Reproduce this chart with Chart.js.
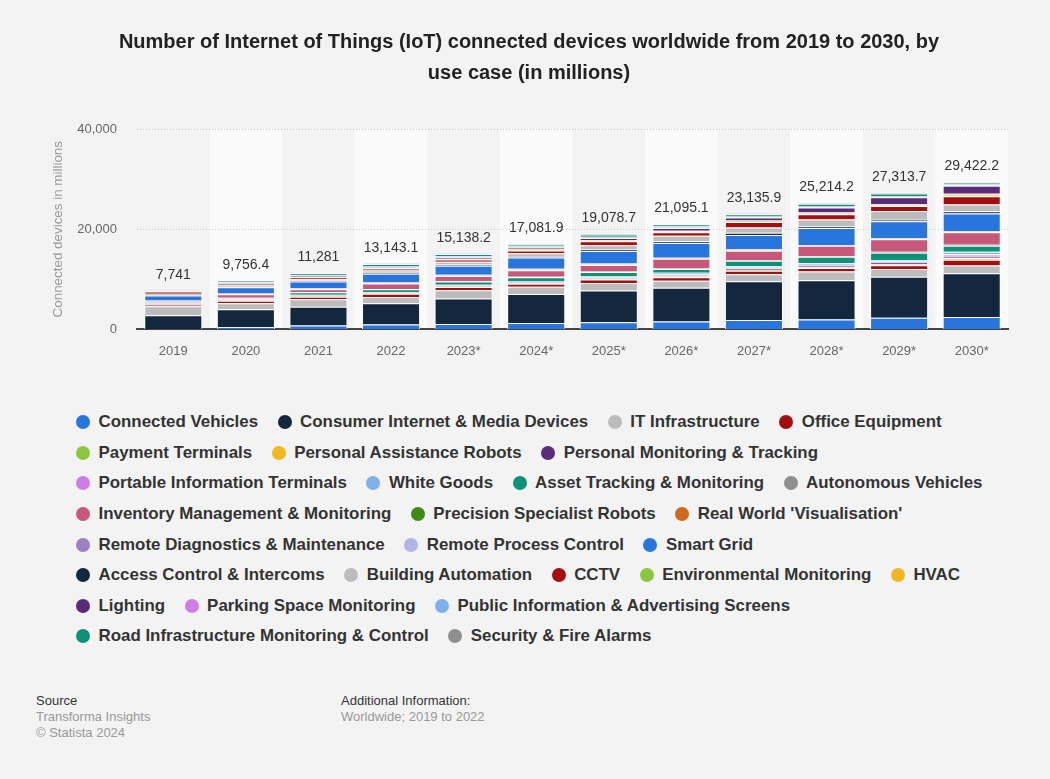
<!DOCTYPE html>
<html>
<head>
<meta charset="utf-8">
<script src="https://cdn.jsdelivr.net/npm/chart.js@4.4.1/dist/chart.umd.min.js"></script>
<style>
  html, body { margin: 0; padding: 0; }
  body { width: 1050px; height: 779px; background: #f3f3f3; font-family: 'Liberation Sans', Arial, sans-serif; position: relative; overflow: hidden; }
  #iotChart { position: absolute; left: 0; top: 0; }
  #legend { position: absolute; left: 76px; top: 407px; width: 925px; display: flex; flex-wrap: wrap; column-gap: 19.5px; margin: 0; padding: 0; list-style: none; }
  #legend li { display: flex; align-items: center; height: 30.6px; font-size: 16.9px; font-weight: bold; color: #333; white-space: nowrap; }
  #legend .dot { width: 14px; height: 14px; border-radius: 50%; margin-right: 8.5px; flex: none; }
  .foot { position: absolute; top: 693px; font-size: 13px; line-height: 16px; color: #999; }
  .foot .head { color: #333; }
</style>
</head>
<body>
<canvas id="iotChart" width="1050" height="380"></canvas>
<ul id="legend"></ul>
<div class="foot" style="left:36px"><div class="head">Source</div><div>Transforma Insights</div><div>© Statista 2024</div></div>
<div class="foot" style="left:341px"><div class="head">Additional Information:</div><div>Worldwide; 2019 to 2022</div></div>
<script>
// years on the x axis (* = forecast)
const years = ['2019', '2020', '2021', '2022', '2023*', '2024*', '2025*', '2026*', '2027*', '2028*', '2029*', '2030*'];
// totals printed above the bars
const totals = [7741, 9756.4, 11281, 13143.1, 15138.2, 17081.9, 19078.7, 21095.1, 23135.9, 25214.2, 27313.7, 29422.2];

// device counts in millions, one array per use case
const connectedVehicles = [100, 450, 800, 1000, 1100, 1300, 1450, 1590, 1870, 2000, 2350, 2500];
const consumerInternet = [2700, 3580, 3730, 4200, 5050, 5760, 6300, 6700, 7750, 7810, 8170, 8690];
const itInfrastructure = [1800, 1200, 1500, 1250, 1670, 1450, 1500, 1400, 1400, 1750, 1550, 1550];
const officeEquipment = [300, 500, 500, 650, 650, 600, 700, 700, 700, 700, 750, 1150];
const paymentTerminals = [60, 80, 60, 50, 70, 80, 90, 140, 140, 140, 160, 250];
const assistanceRobots = [10, 20, 20, 20, 30, 40, 50, 60, 60, 60, 70, 150];
const personalMonitoring = [100, 120, 100, 80, 100, 120, 130, 220, 230, 230, 260, 400];
const portableTerminals = [90, 100, 80, 60, 80, 110, 120, 200, 200, 200, 230, 350];
const whiteGoods = [140, 150, 140, 120, 140, 170, 200, 300, 300, 300, 330, 450];
const assetTracking = [100, 120, 500, 600, 650, 800, 900, 750, 1050, 1300, 1450, 1200];
const autonomousVehicles = [10, 20, 30, 40, 60, 80, 100, 120, 140, 170, 200, 200];
const inventoryMgmt = [250, 700, 550, 1100, 1050, 1300, 1300, 1900, 1850, 2050, 2450, 2500];
const precisionRobots = [15, 20, 30, 30, 40, 50, 60, 40, 60, 30, 40, 60];
const realWorldVis = [10, 15, 20, 20, 30, 40, 50, 30, 40, 20, 30, 40];
const remoteDiagnostics = [35, 50, 80, 70, 90, 100, 120, 70, 120, 50, 70, 80];
const remoteProcess = [30, 45, 70, 60, 80, 90, 100, 60, 100, 40, 60, 80];
const smartGrid = [1000, 1250, 1350, 1750, 1800, 2250, 2500, 2950, 2850, 3400, 3400, 3500];
const accessControl = [120, 150, 180, 200, 250, 280, 300, 380, 450, 300, 340, 420];
const buildingAutomation = [250, 250, 320, 450, 550, 600, 820, 1100, 1050, 1400, 1700, 1350];
const cctv = [450, 250, 280, 400, 450, 550, 800, 700, 1100, 1050, 1000, 1650];
const environmental = [10, 30, 40, 50, 70, 90, 100, 110, 120, 150, 150, 100];
const hvac = [20, 50, 80, 90, 110, 130, 150, 170, 150, 200, 220, 400];
const lighting = [40, 120, 150, 180, 220, 300, 400, 550, 600, 1000, 1400, 1600];
const parking = [10, 30, 40, 40, 50, 60, 70, 80, 60, 80, 90, 80];
const publicScreens = [30, 100, 150, 150, 200, 220, 200, 200, 150, 180, 180, 150];
const roadInfrastructure = [40, 300, 400, 400, 450, 400, 450, 450, 450, 450, 500, 400];
const securityAlarms = [20, 60, 80, 80, 100, 110, 120, 130, 150, 150, 160, 120];

const series = [
  ['Connected Vehicles', connectedVehicles],
  ['Consumer Internet & Media Devices', consumerInternet],
  ['IT Infrastructure', itInfrastructure],
  ['Office Equipment', officeEquipment],
  ['Payment Terminals', paymentTerminals],
  ['Personal Assistance Robots', assistanceRobots],
  ['Personal Monitoring & Tracking', personalMonitoring],
  ['Portable Information Terminals', portableTerminals],
  ['White Goods', whiteGoods],
  ['Asset Tracking & Monitoring', assetTracking],
  ['Autonomous Vehicles', autonomousVehicles],
  ['Inventory Management & Monitoring', inventoryMgmt],
  ['Precision Specialist Robots', precisionRobots],
  ["Real World 'Visualisation'", realWorldVis],
  ['Remote Diagnostics & Maintenance', remoteDiagnostics],
  ['Remote Process Control', remoteProcess],
  ['Smart Grid', smartGrid],
  ['Access Control & Intercoms', accessControl],
  ['Building Automation', buildingAutomation],
  ['CCTV', cctv],
  ['Environmental Monitoring', environmental],
  ['HVAC', hvac],
  ['Lighting', lighting],
  ['Parking Space Monitoring', parking],
  ['Public Information & Advertising Screens', publicScreens],
  ['Road Infrastructure Monitoring & Control', roadInfrastructure],
  ['Security & Fire Alarms', securityAlarms],
];

const PALETTE = ['#2876dd', '#13283f', '#bcbcbc', '#a50e0e', '#8cc63f', '#f2b824', '#5b2a7a', '#cf7de6',
                 '#7eb0ee', '#0d9277', '#8f8f8f', '#c8587a', '#3f8b17', '#d0691e', '#9c80c3', '#b3b3e6'];

Chart.defaults.font.family = "'Liberation Sans', Arial, sans-serif";

// lighter background behind every second year
const columnBands = {
  id: 'columnBands',
  beforeDraw(chart) {
    const { ctx, chartArea, scales: { x } } = chart;
    const w = x.width / years.length;
    ctx.save();
    ctx.fillStyle = '#fafafa';
    years.forEach((_, i) => {
      if (i % 2 === 1) ctx.fillRect(x.getPixelForValue(i) - w / 2, chartArea.top, w, chartArea.bottom - chartArea.top);
    });
    ctx.restore();
  }
};

// total value above each stack
const totalLabels = {
  id: 'totalLabels',
  afterDatasetsDraw(chart) {
    const { ctx } = chart;
    const meta = chart.getDatasetMeta(chart.data.datasets.length - 1);
    ctx.save();
    ctx.font = "14px 'Liberation Sans', Arial, sans-serif";
    ctx.fillStyle = '#333';
    ctx.textAlign = 'center';
    ctx.textBaseline = 'middle';
    meta.data.forEach((bar, i) => {
      ctx.fillText(totals[i].toLocaleString('en-US'), bar.x, bar.y - 15.5);
    });
    ctx.restore();
  }
};

// legend rendered as html list below the canvas
const htmlLegend = {
  id: 'htmlLegend',
  afterUpdate(chart) {
    const ul = document.getElementById('legend');
    ul.innerHTML = '';
    chart.options.plugins.legend.labels.generateLabels(chart).forEach(item => {
      const li = document.createElement('li');
      const dot = document.createElement('span');
      dot.className = 'dot';
      dot.style.background = item.fillStyle;
      li.appendChild(dot);
      li.appendChild(document.createTextNode(item.text));
      ul.appendChild(li);
    });
  }
};

new Chart(document.getElementById('iotChart'), {
  type: 'bar',
  data: {
    labels: years,
    datasets: series.map(([label, data], i) => ({
      label,
      data,
      backgroundColor: PALETTE[i % PALETTE.length],
      borderColor: '#ffffff',
      borderWidth: 1,
      barPercentage: 0.8,
      categoryPercentage: 1,
    })),
  },
  options: {
    responsive: false,
    animation: false,
    layout: { padding: { top: 10, left: 50, right: 42, bottom: 7 } },
    plugins: {
      legend: { display: false },
      tooltip: { enabled: false },
      title: {
        display: true,
        text: ['Number of Internet of Things (IoT) connected devices worldwide from 2019 to 2030, by', 'use case (in millions)'],
        color: '#222',
        font: { size: 20, weight: 'bold', lineHeight: 1.55 },
        padding: { top: 16.5, bottom: 40.5 },
      },
    },
    scales: {
      x: {
        stacked: true,
        grid: { display: false, drawTicks: false },
        border: { display: true, color: '#444', width: 2 },
        ticks: { color: '#666', font: { size: 13 }, padding: 14 },
      },
      y: {
        stacked: true,
        min: 0,
        max: 40000,
        afterFit: scale => { scale.width = 87; },
        ticks: { stepSize: 20000, color: '#666', font: { size: 13 }, padding: 20, callback: v => v.toLocaleString('en-US') },
        grid: { color: c => c.tick.value === 0 ? 'rgba(0,0,0,0)' : '#c8c8c8', drawTicks: false },
        border: { display: false, dash: [1, 2] },
        title: { display: true, text: 'Connected devices in millions', color: '#999', font: { size: 13.4 }, padding: { top: 0, bottom: 11 } },
      },
    },
  },
  plugins: [columnBands, totalLabels, htmlLegend],
});
</script>
</body>
</html>
